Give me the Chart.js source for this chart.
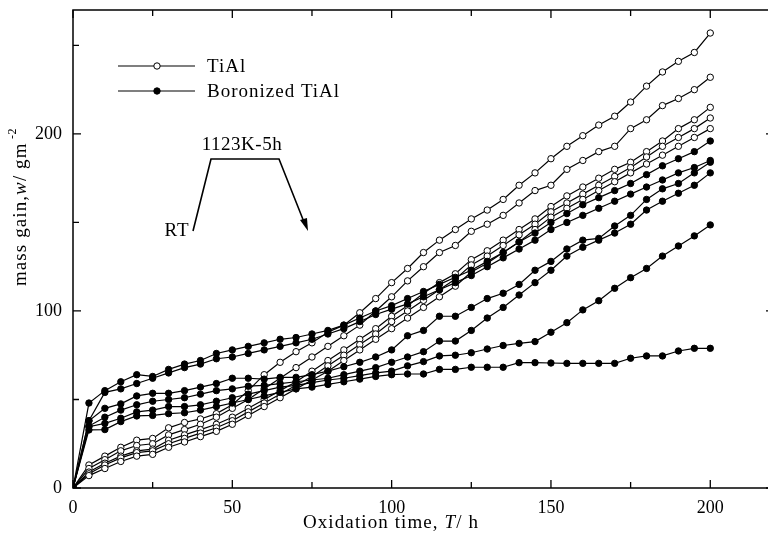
<!DOCTYPE html>
<html>
<head>
<meta charset="utf-8">
<script src="https://cdn.jsdelivr.net/npm/chart.js@4.4.1/dist/chart.umd.min.js"></script>
<style>
  html, body { margin: 0; padding: 0; background: #fff; overflow: hidden; }
  #wrap { width: 780px; height: 540px; }
</style>
</head>
<body>
<div id="wrap"><canvas id="massChart" width="780" height="540"></canvas></div>
<script>
// ===== mass gain vs oxidation time (cyclic 1123K-5h) =====

// --- DATA ---
// one reading every 5 h
const hours = [0, 5, 10, 15, 20, 25, 30, 35, 40, 45, 50, 55, 60, 65, 70, 75, 80, 85, 90, 95, 100,
  105, 110, 115, 120, 125, 130, 135, 140, 145, 150, 155, 160, 165, 170, 175, 180, 185, 190, 195, 200];

// TiAl specimens (open markers)
const tial1 = [0, 13, 18, 23, 27, 28, 34, 37, 39, 42, 47, 55, 64, 71, 77, 82, 88, 92, 99, 107, 116,
  124, 133, 140, 146, 152, 157, 163, 171, 178, 186, 193, 199, 205, 210, 218, 227, 235, 241, 246, 257];
const tial2 = [0, 11, 16, 21, 24, 25, 30, 33, 36, 40, 45, 50, 56, 62, 68, 74, 80, 86, 92, 100, 108,
  117, 125, 133, 137, 145, 149, 154, 161, 168, 171, 180, 185, 190, 193, 203, 208, 216, 220, 225, 232];
const tial3 = [0, 9, 14, 18, 21, 22, 27, 30, 33, 36, 40, 45, 50, 55, 60, 66, 72, 78, 84, 90, 97,
  103, 110, 116, 121, 129, 134, 140, 146, 152, 159, 165, 170, 175, 180, 184, 190, 196, 203, 208, 215];
const tial4 = [0, 8, 13, 17, 20, 21, 25, 28, 31, 34, 38, 43, 48, 53, 58, 63, 69, 75, 81, 87, 94,
  100, 106, 112, 118, 126, 131, 137, 143, 149, 156, 161, 166, 171, 176, 181, 187, 193, 198, 203, 209];
const tial5 = [0, 7, 11, 15, 18, 19, 23, 26, 29, 32, 36, 41, 46, 51, 56, 61, 66, 72, 78, 84, 90,
  96, 102, 108, 114, 122, 127, 133, 139, 146, 153, 158, 163, 168, 173, 178, 183, 188, 193, 198, 203];

// boronized TiAl specimens (filled markers)
const bor1 = [0, 48, 55, 60, 64, 63, 67, 70, 72, 76, 78, 80, 82, 84, 85, 87, 89, 92, 96, 100, 103,
  107, 111, 115, 119, 123, 128, 133, 139, 144, 150, 155, 160, 164, 168, 172, 177, 182, 186, 190, 196];
const bor2 = [0, 38, 54, 56, 59, 62, 65, 68, 70, 73, 74, 76, 78, 80, 82, 84, 87, 90, 94, 98, 101,
  104, 108, 112, 116, 120, 125, 130, 135, 140, 146, 150, 154, 158, 162, 166, 170, 174, 178, 181, 185];
const bor3 = [0, 38, 45, 47.5, 52, 53.5, 53.5, 55, 57, 59, 62, 62, 61.5, 62.5, 62.5, 64, 66, 68.5, 71, 74, 78,
  86, 89, 97, 97, 102, 107, 110, 115, 123, 128, 135, 140, 141, 148, 154, 163, 169, 172, 178, 184];
const bor4 = [0, 35, 40, 44, 47, 49, 50, 51, 53, 55, 56, 57.5, 58, 59, 60, 61, 62, 64, 66, 68, 71,
  74, 77, 83, 83, 89, 96, 102, 109, 116, 123, 131, 136, 140, 144, 149, 157, 162, 166.5, 171, 178];
const bor5 = [0, 34.6, 36.5, 39.4, 43, 44, 46, 46, 47, 49, 51, 53, 55, 57, 58, 59.5, 61, 62, 63.5, 65, 66,
  69, 71.4, 74.6, 75, 76.4, 78.5, 80.5, 81.7, 82.7, 88, 93.4, 100.6, 105.8, 112.8, 118.8, 124, 131, 136.7, 142.4, 148.6];
const bor6 = [0, 32.8, 33, 37.5, 40.7, 41, 42, 42.5, 44, 46, 48, 50, 52, 54, 56, 57, 58.5, 60, 61.5, 63, 64,
  64.4, 64.4, 67, 67, 68.2, 68.2, 68.2, 70.8, 70.8, 70.6, 70.4, 70.4, 70.4, 70.4, 73.3, 74.6, 74.6, 77.4, 78.9, 78.9];

// axis ticks
const xLabels = [0, 50, 100, 150, 200];
const xMinor = [25, 75, 125, 175];
const yLabels = [0, 100, 200];
const yMinor = [50, 150, 250];

const SERIF = '"Liberation Serif", "Times New Roman", serif';

function pts(arr) { return hours.map((h, i) => ({ x: h, y: arr[i] })); }

function openSet(arr) {
  return {
    label: 'TiAl', data: pts(arr),
    borderColor: '#000', borderWidth: 1.2,
    pointRadius: 3.2, pointBorderWidth: 1,
    pointBackgroundColor: '#fff', pointBorderColor: '#000',
    tension: 0
  };
}
function filledSet(arr) {
  return {
    label: 'Boronized TiAl', data: pts(arr),
    borderColor: '#000', borderWidth: 1.2,
    pointRadius: 3.2, pointBorderWidth: 1,
    pointBackgroundColor: '#000', pointBorderColor: '#000',
    tension: 0
  };
}

// --- TEXT HELPERS ---
function setFont(ctx, r) {
  ctx.font = (r.italic ? 'italic ' : '') + (r.size || 19) + 'px ' + SERIF;
  ctx.letterSpacing = (r.sp === undefined ? 1.1 : r.sp) + 'px';
}

// draws text runs one after another, centred on x
function drawRuns(ctx, runs, x, y) {
  let w = 0;
  runs.forEach(r => { setFont(ctx, r); w += ctx.measureText(r.t).width; });
  let cx = x - w / 2;
  runs.forEach(r => {
    setFont(ctx, r);
    ctx.fillText(r.t, cx, y + (r.dy || 0));
    cx += ctx.measureText(r.t).width;
  });
}

function drawLegendRow(ctx, y, filled, text) {
  ctx.beginPath();
  ctx.moveTo(118, y); ctx.lineTo(195, y);
  ctx.lineWidth = 1.2; ctx.strokeStyle = '#000'; ctx.stroke();
  ctx.beginPath();
  ctx.arc(157, y, 3.2, 0, Math.PI * 2);
  ctx.fillStyle = filled ? '#000' : '#fff';
  ctx.fill(); ctx.lineWidth = 1; ctx.stroke();
  ctx.fillStyle = '#000';
  ctx.textAlign = 'left'; ctx.textBaseline = 'middle';
  setFont(ctx, { size: 19, sp: 1 });
  ctx.fillText(text, 207, y + 1);
}

// --- FRAME, TICKS, LEGEND, NOTES ---
const framePlugin = {
  id: 'frame',
  afterDraw(chart) {
    const { ctx, chartArea: a, scales: { x, y } } = chart;
    ctx.save();
    ctx.strokeStyle = '#000';
    ctx.lineWidth = 1.5;
    ctx.strokeRect(a.left, a.top, a.right - a.left, a.bottom - a.top);

    ctx.lineWidth = 1.3;
    ctx.beginPath();
    xLabels.concat(xMinor).forEach(v => {
      const px = x.getPixelForValue(v);
      const len = xLabels.includes(v) ? 8 : 6;
      ctx.moveTo(px, a.bottom); ctx.lineTo(px, a.bottom - len);
      ctx.moveTo(px, a.top); ctx.lineTo(px, a.top + len);
    });
    yLabels.concat(yMinor).forEach(v => {
      const py = y.getPixelForValue(v);
      const len = yLabels.includes(v) ? 8 : 6;
      ctx.moveTo(a.left, py); ctx.lineTo(a.left + len, py);
      ctx.moveTo(a.right, py); ctx.lineTo(a.right - len, py);
    });
    ctx.stroke();

    // legend
    drawLegendRow(ctx, 66, false, 'TiAl');
    drawLegendRow(ctx, 91, true, 'Boronized TiAl');

    // thermal cycle sketch
    ctx.beginPath();
    ctx.moveTo(193, 231); ctx.lineTo(211, 159); ctx.lineTo(279, 159); ctx.lineTo(304, 222);
    ctx.lineWidth = 1.6; ctx.stroke();
    ctx.beginPath();
    ctx.moveTo(308, 231); ctx.lineTo(300, 220); ctx.lineTo(307, 218);
    ctx.closePath(); ctx.fillStyle = '#000'; ctx.fill();
    ctx.textAlign = 'left'; ctx.textBaseline = 'middle';
    drawRuns(ctx, [{ t: '1123K-5h', sp: 0.5 }], 242, 145);
    drawRuns(ctx, [{ t: 'RT', sp: 1 }], 177, 231);

    // axis titles
    drawRuns(ctx, [{ t: 'Oxidation time, ' }, { t: 'T', italic: true }, { t: '/ h' }], 391, 523);

    ctx.translate(21, 207);
    ctx.rotate(-Math.PI / 2);
    drawRuns(ctx, [{ t: 'mass gain,' }, { t: 'w', italic: true }, { t: '/ gm' },
      { t: ' -2', size: 12, sp: 0.5, dy: -8 }], 0, 0);
    ctx.restore();
  }
};

// --- CHART ---
const ctx = document.getElementById('massChart');
new Chart(ctx, {
  type: 'line',
  data: {
    datasets: [
      filledSet(bor6), filledSet(bor5), filledSet(bor4), filledSet(bor3), filledSet(bor2), filledSet(bor1),
      openSet(tial5), openSet(tial4), openSet(tial3), openSet(tial2), openSet(tial1)
    ]
  },
  options: {
    responsive: false,
    animation: false,
    devicePixelRatio: 1,
    layout: { padding: { top: 10, right: 6, left: 0, bottom: 0 } },
    plugins: { legend: { display: false }, tooltip: { enabled: false } },
    scales: {
      x: {
        type: 'linear', min: 0, max: 220,
        afterBuildTicks: s => { s.ticks = xLabels.map(v => ({ value: v })); },
        afterFit: s => { s.height = 52; s.paddingLeft = 0; s.paddingRight = 0; },
        grid: { display: false, drawTicks: false },
        border: { display: false },
        ticks: { autoSkip: false, maxRotation: 0, padding: 9, color: '#000', font: { family: SERIF, size: 18 } }
      },
      y: {
        type: 'linear', min: 0, max: 270,
        afterBuildTicks: s => { s.ticks = yLabels.map(v => ({ value: v })); },
        afterFit: s => { s.width = 73; s.paddingTop = 0; s.paddingBottom = 0; },
        grid: { display: false, drawTicks: false },
        border: { display: false },
        ticks: { autoSkip: false, padding: 11, color: '#000', font: { family: SERIF, size: 18 } }
      }
    }
  },
  plugins: [framePlugin]
});
</script>
</body>
</html>
